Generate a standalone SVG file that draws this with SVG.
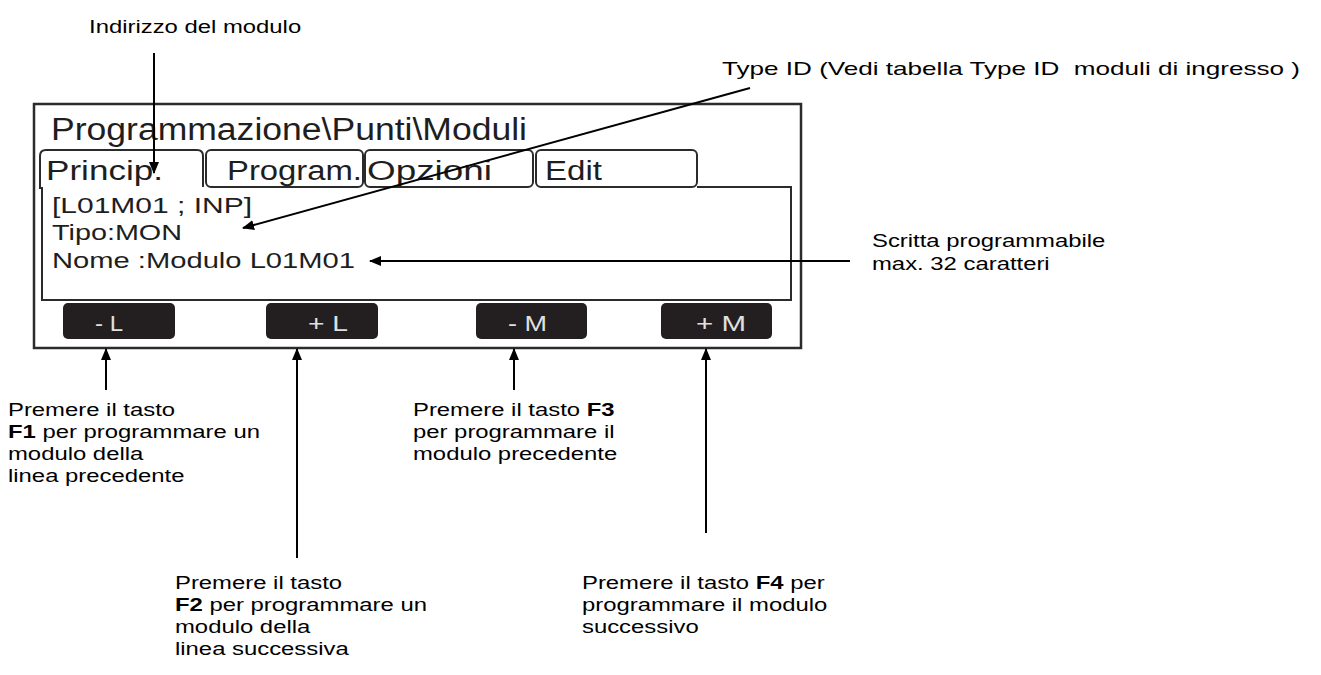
<svg xmlns="http://www.w3.org/2000/svg" width="1321" height="675" viewBox="0 0 1321 675">
<defs>
<marker id="ah" viewBox="0 0 12 10" refX="11" refY="5" markerWidth="12" markerHeight="10" markerUnits="userSpaceOnUse" orient="auto">
<path d="M0,0 L12,5 L0,10 z" fill="#000"/>
</marker>
<style>
.cap{font-family:"Liberation Sans",Arial,sans-serif;font-size:18.5px;fill:#000}
.lcd{font-family:"Liberation Sans",Arial,sans-serif;fill:#1e1e1e}
.frame{fill:none;stroke:#2b2b2b;stroke-width:2.5}
.thin{fill:none;stroke:#2b2b2b;stroke-width:2}
.btn{fill:#231f20}
.btxt{font-family:"Liberation Sans",Arial,sans-serif;font-size:22px;fill:#e0e0e0}
.conn{stroke:#000;stroke-width:2;fill:none;marker-end:url(#ah)}
</style>
</defs>
<rect width="1321" height="675" fill="#fff"/>

<g id="display">
<rect class="frame" x="34" y="104" width="767" height="244"/>
<text class="lcd" x="51" y="140" font-size="31" textLength="476" lengthAdjust="spacingAndGlyphs">Programmazione\Punti\Moduli</text>
<path class="thin" d="M40,189 V156 Q40,150 46,150 H197 Q203,150 203,156 V187"/>
<rect class="thin" x="206" y="150" width="157" height="37" rx="5"/>
<rect class="thin" x="365" y="150" width="168" height="37" rx="5"/>
<rect class="thin" x="536" y="150" width="161" height="37" rx="5"/>
<path class="thin" d="M697,187 H791 V300 H42 V187"/>
<text class="lcd" x="46" y="180" font-size="27" textLength="117" lengthAdjust="spacingAndGlyphs">Princip.</text>
<text class="lcd" x="227" y="180" font-size="27" textLength="135" lengthAdjust="spacingAndGlyphs">Program.</text>
<text class="lcd" x="367" y="180" font-size="27" textLength="125" lengthAdjust="spacingAndGlyphs">Opzioni</text>
<text class="lcd" x="545" y="180" font-size="27" textLength="57" lengthAdjust="spacingAndGlyphs">Edit</text>
<text class="lcd" x="52" y="213" font-size="22" textLength="200" lengthAdjust="spacingAndGlyphs">[L01M01 ; INP]</text>
<text class="lcd" x="52" y="240" font-size="22" textLength="130" lengthAdjust="spacingAndGlyphs">Tipo:MON</text>
<text class="lcd" x="52" y="268" font-size="22" textLength="303" lengthAdjust="spacingAndGlyphs">Nome :Modulo L01M01</text>
</g>

<g id="btn-minus-l">
<rect class="btn" x="63" y="303" width="112" height="36" rx="5"/>
<text class="btxt" x="95" y="331" textLength="28" lengthAdjust="spacingAndGlyphs">- L</text>
</g>
<g id="btn-plus-l">
<rect class="btn" x="266" y="303" width="112" height="36" rx="5"/>
<text class="btxt" x="308" y="331" textLength="40" lengthAdjust="spacingAndGlyphs">+ L</text>
</g>
<g id="btn-minus-m">
<rect class="btn" x="476" y="303" width="111" height="36" rx="5"/>
<text class="btxt" x="508" y="331" textLength="39" lengthAdjust="spacingAndGlyphs">- M</text>
</g>
<g id="btn-plus-m">
<rect class="btn" x="661" y="303" width="111" height="36" rx="5"/>
<text class="btxt" x="696" y="331" textLength="50" lengthAdjust="spacingAndGlyphs">+ M</text>
</g>

<g id="label-indirizzo">
<text class="cap" transform="translate(89 33) scale(1.29 1)">Indirizzo del modulo</text>
</g>
<g id="label-typeid">
<text class="cap" x="722" y="75" textLength="578" lengthAdjust="spacingAndGlyphs">Type ID (Vedi tabella Type ID &#160;moduli di ingresso )</text>
</g>
<g id="label-scritta">
<text class="cap" transform="translate(872 247) scale(1.29 1)">Scritta programmabile</text>
<text class="cap" transform="translate(872 270) scale(1.29 1)">max. 32 caratteri</text>
</g>
<g id="label-f1">
<text class="cap" transform="translate(8 416) scale(1.29 1)"><tspan x="0" y="0">Premere il tasto</tspan><tspan x="0" y="22"><tspan font-weight="bold">F1</tspan> per programmare un</tspan><tspan x="0" y="44">modulo della</tspan><tspan x="0" y="66">linea precedente</tspan></text>
</g>
<g id="label-f3">
<text class="cap" transform="translate(413 416) scale(1.29 1)"><tspan x="0" y="0">Premere il tasto <tspan font-weight="bold">F3</tspan></tspan><tspan x="0" y="22">per programmare il</tspan><tspan x="0" y="44">modulo precedente</tspan></text>
</g>
<g id="label-f2">
<text class="cap" transform="translate(175 589) scale(1.29 1)"><tspan x="0" y="0">Premere il tasto</tspan><tspan x="0" y="22"><tspan font-weight="bold">F2</tspan> per programmare un</tspan><tspan x="0" y="44">modulo della</tspan><tspan x="0" y="66">linea successiva</tspan></text>
</g>
<g id="label-f4">
<text class="cap" transform="translate(582 589) scale(1.29 1)"><tspan x="0" y="0">Premere il tasto <tspan font-weight="bold">F4</tspan> per</tspan><tspan x="0" y="22">programmare il modulo</tspan><tspan x="0" y="44">successivo</tspan></text>
</g>

<g id="connectors">
<line class="conn" x1="154" y1="53" x2="154" y2="173"/>
<line class="conn" x1="750" y1="88" x2="243" y2="228"/>
<line class="conn" x1="850" y1="261" x2="370" y2="261"/>
<line class="conn" x1="106" y1="390" x2="106" y2="349"/>
<line class="conn" x1="297" y1="558" x2="297" y2="349"/>
<line class="conn" x1="514" y1="390" x2="514" y2="349"/>
<line class="conn" x1="706" y1="533" x2="706" y2="349"/>
</g>
</svg>
